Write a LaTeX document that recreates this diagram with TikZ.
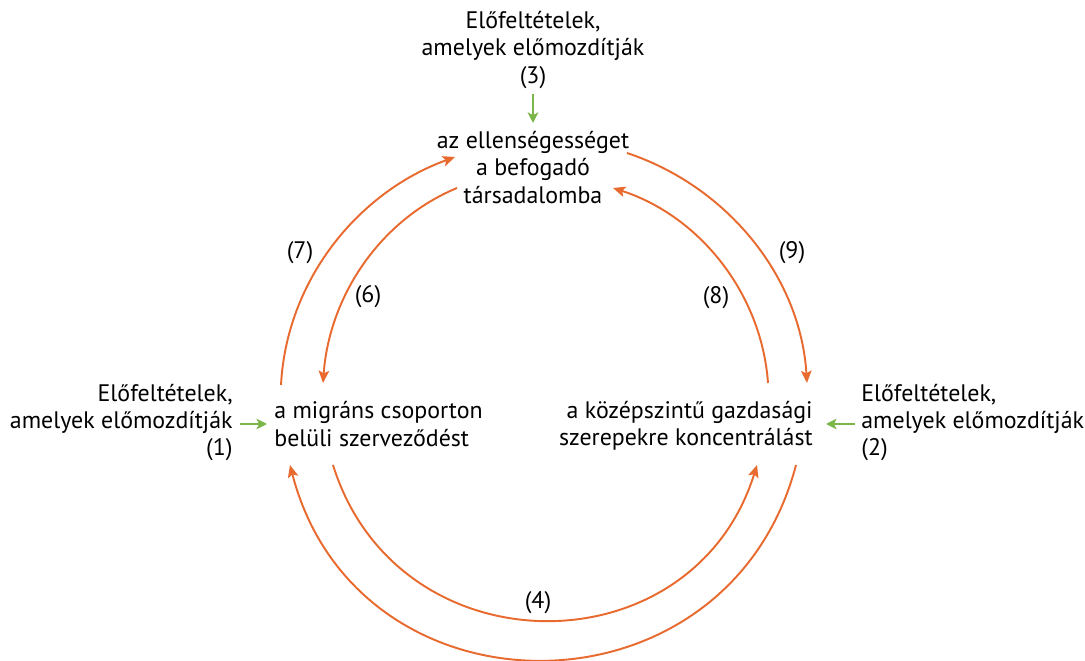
\documentclass[tikz,border=0pt]{standalone}
\usepackage{fontspec}
\setmainfont{PT Sans}
\usetikzlibrary{arrows.meta}

\definecolor{narancs}{RGB}{232,106,46}
\definecolor{zold}{RGB}{122,182,72}

\tikzset{
	szoveg/.style={inner sep=0pt, font=\fontsize{13.6}{15.6}\selectfont},
	szam/.style={inner sep=0pt, font=\fontsize{13.6}{15.6}\selectfont},
	kor/.style={draw=narancs, line width=1.1pt, -{Stealth[length=7pt, width=6pt, inset=1.5pt]}},
	elo/.style={draw=zold, line width=1.1pt, -{Stealth[length=6pt, width=6pt, inset=1.5pt]}}
}

\begin{document}
\begin{tikzpicture}
			\useasboundingbox (0, 0) rectangle (21.7, 13.22);
			% csomopontok
			\node[szoveg, align=center] (ell) at (10.66, 9.87) {az ellenségességet\\a befogadó\\társadalomba};
			\node[szoveg, align=left, anchor=west] (mig) at (5.48, 4.74) {a migráns csoporton\\belüli szerveződést};
			\node[szoveg, align=right, anchor=east] (koz) at (16.26, 4.70) {a középszintű gazdasági\\szerepekre koncentrálást};
			% elofeltetelek
			\node[szoveg, align=center] (elo3) at (10.66, 12.22) {Előfeltételek,\\amelyek előmozdítják\\(3)};
			\node[szoveg, align=right, anchor=east] (elo1) at (4.66, 4.77) {Előfeltételek,\\amelyek előmozdítják\\(1)};
			\node[szoveg, align=left, anchor=west] (elo2) at (17.22, 4.77) {Előfeltételek,\\amelyek előmozdítják\\(2)};
			\draw[elo] ([yshift=-0.1cm]elo3.south) -- ([yshift=0.16cm]ell.north);
			\draw[elo] ([xshift=0.14cm, yshift=-0.03cm]elo1.east) -- ([xshift=-0.14cm]mig.west);
			\draw[elo] ([xshift=-0.12cm, yshift=-0.03cm]elo2.west) -- ([xshift=0.26cm, yshift=-0.03cm]koz.east |- elo2.west);
			% nyilak a kor mentén
			\draw[kor] ([shift={(0.14, 0.78)}]mig.west) to[out=87, in=200, looseness=0.93] ([shift={(-1.56, 0.21)}]ell.center);
			\draw[kor] ([shift={(-1.52, -0.41)}]ell.center) to[out=202.6, in=85.9, looseness=0.92] ([shift={(0.98, 0.82)}]mig.west);
			\draw[kor] ([shift={(-0.90, 0.86)}]koz.east) to[out=94.1, in=-17.9, looseness=0.93] ([shift={(1.60, -0.41)}]ell.center);
			\draw[kor] ([shift={(1.88, 0.29)}]ell.center) to[out=-18.4, in=93.5, looseness=0.93] ([shift={(-0.12, 0.86)}]koz.east);
			\draw[kor] ([shift={(1.18, -0.82)}]mig.west) to[out=-72.7, in=-107.3, looseness=1.31] ([shift={(-1.12, -0.78)}]koz.east);
			\draw[kor] ([shift={(-0.34, -0.78)}]koz.east) to[out=255.3, in=284.5, looseness=1.36] ([shift={(0.32, -0.82)}]mig.west);
			% szamok
			\node[szam] (n7) at (6.0, 8.16) {(7)};
			\node[szam] (n6) at (7.36, 7.28) {(6)};
			\node[szam] (n8) at (14.32, 7.26) {(8)};
			\node[szam] (n9) at (15.84, 8.16) {(9)};
			\node[szam] (n4) at (10.76, 1.16) {(4)};
		\end{tikzpicture}
\end{document}
